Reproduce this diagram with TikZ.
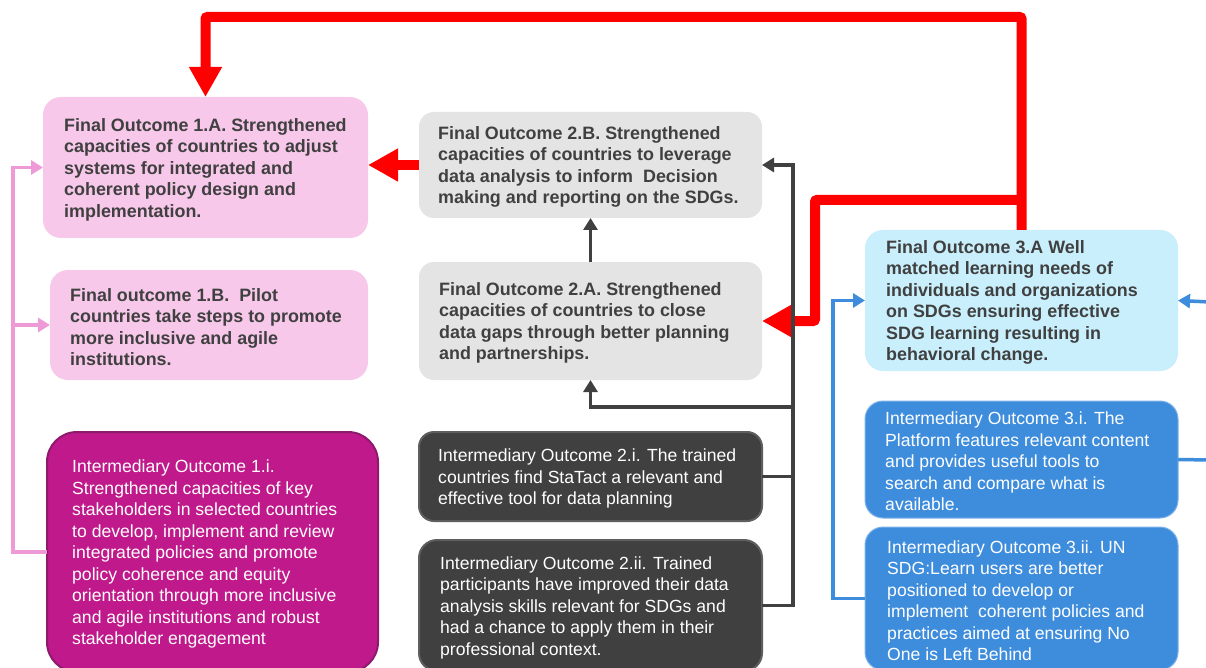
\documentclass[tikz,border=0pt]{standalone}
\usepackage{fontspec}
\setmainfont{Liberation Sans}
\usetikzlibrary{arrows.meta}
\definecolor{pinkfill}{HTML}{F7C8E9}
\definecolor{pinkline}{HTML}{EE9AD6}
\definecolor{magfill}{HTML}{C0198B}
\definecolor{magdraw}{HTML}{8E1A6E}
\definecolor{grayfill}{HTML}{E4E4E4}
\definecolor{darkfill}{HTML}{404040}
\definecolor{darkdraw}{HTML}{5E5E5E}
\definecolor{lbluefill}{HTML}{C9EFFC}
\definecolor{bluefill}{HTML}{3E8DDD}
\definecolor{bluedraw}{HTML}{7DB3EA}
\definecolor{txtgray}{HTML}{404040}
\definecolor{redc}{HTML}{FF0000}
\tikzset{
  box/.style={rectangle, rounded corners=18pt, inner sep=0pt, outer sep=0pt},
  txtb/.style={anchor=west, align=left, inner sep=0pt, text=txtgray, yshift=-2pt,
    font=\fontsize{17.9}{21.5}\selectfont\bfseries},
  txtw/.style={anchor=west, align=left, inner sep=0pt, text=white, yshift=-2pt,
    font=\fontsize{17.6}{21.5}\selectfont},
  redline/.style={draw=redc, line width=10pt, rounded corners=2pt},
  redtip/.style={-{Triangle[length=30pt,width=31pt]}},
  darkline/.style={draw=darkfill, line width=3.5pt},
  pinkln/.style={draw=pinkline, line width=3.5pt},
  blueln/.style={draw=bluefill, line width=3.5pt},
  smalltip/.style={-{Triangle[length=12pt,width=14pt]}},
}
\begin{document}
\begin{tikzpicture}[x=1pt,y=-1pt]
\useasboundingbox[fill=white] (0,0) rectangle (1206,668);
% boxes
\node[box, fill=pinkfill, minimum width=325pt, minimum height=141pt] (n1A) at (205.5,167.5) {};
\node[box, fill=pinkfill, minimum width=318pt, minimum height=110pt] (n1B) at (209,325) {};
\node[box, fill=magfill, draw=magdraw, line width=2pt, rounded corners=30pt, minimum width=331pt, minimum height=240pt] (n1i) at (212.5,552) {};
\node[box, fill=grayfill, rounded corners=15pt, minimum width=343pt, minimum height=106pt] (n2B) at (590.5,165) {};
\node[box, fill=grayfill, rounded corners=15pt, minimum width=343pt, minimum height=118pt] (n2A) at (590.5,321) {};
\node[box, fill=darkfill, draw=darkdraw, line width=2pt, rounded corners=15pt, minimum width=343pt, minimum height=89pt] (n2i) at (590.5,476.5) {};
\node[box, fill=darkfill, draw=darkdraw, line width=2pt, rounded corners=18pt, minimum width=343pt, minimum height=131pt] (n2ii) at (590.5,605.5) {};
\node[box, fill=lbluefill, minimum width=313pt, minimum height=141pt] (n3A) at (1021.5,300.5) {};
\node[box, fill=bluefill, draw=bluedraw, line width=1pt, minimum width=313pt, minimum height=117pt] (n3i) at (1021.5,459.5) {};
\node[box, fill=bluefill, draw=bluedraw, line width=1pt, minimum width=313pt, minimum height=143pt] (n3ii) at (1021.5,598.5) {};
% texts
\node[txtb] (t1A) at ([xshift=21pt]n1A.west) {Final Outcome 1.A. Strengthened\\capacities of countries to adjust\\systems for integrated and\\coherent policy design and\\implementation.};
\node[txtb] (t1B) at ([xshift=20pt]n1B.west) {Final outcome 1.B.\ \ Pilot\\countries take steps to promote\\more inclusive and agile\\institutions.};
\node[txtw] (t1i) at ([xshift=25pt]n1i.west) {Intermediary Outcome 1.i.\\Strengthened capacities of key\\stakeholders in selected countries\\to develop, implement and review\\integrated policies and promote\\policy coherence and equity\\orientation through more inclusive\\and agile institutions and robust\\stakeholder engagement};
\node[txtb] (t2B) at ([xshift=19pt]n2B.west) {Final Outcome 2.B. Strengthened\\capacities of countries to leverage\\data analysis to inform\ \ Decision\\making and reporting on the SDGs.};
\node[txtb] (t2A) at ([xshift=20pt]n2A.west) {Final Outcome 2.A. Strengthened\\capacities of countries to close\\data gaps through better planning\\and partnerships.};
\node[txtw] (t2i) at ([xshift=19pt]n2i.west) {Intermediary Outcome 2.i. The trained\\countries find StaTact a relevant and\\effective tool for data planning};
\node[txtw] (t2ii) at ([xshift=21pt]n2ii.west) {Intermediary Outcome 2.ii. Trained\\participants have improved their data\\analysis skills relevant for SDGs and\\had a chance to apply them in their\\professional context.};
\node[txtb] (t3A) at ([xshift=21pt]n3A.west) {Final Outcome 3.A Well\\matched learning needs of\\individuals and organizations\\on SDGs ensuring effective\\SDG learning resulting in\\behavioral change.};
\node[txtw] (t3i) at ([xshift=20pt]n3i.west) {Intermediary Outcome 3.i. The\\Platform features relevant content\\and provides useful tools to\\search and compare what is\\available.};
\node[txtw] (t3ii) at ([xshift=22pt]n3ii.west) {Intermediary Outcome 3.ii. UN\\SDG:Learn users are better\\positioned to develop or\\implement\ \ coherent policies and\\practices aimed at ensuring No\\One is Left Behind};
% coordinates
\coordinate (rtop) at (0,17);
\coordinate (rmid) at (0,200);
\coordinate (rx2) at (815,0);
\coordinate (dx) at (793,0);
\coordinate (dy) at (0,407);
\coordinate (px) at (13,0);
\coordinate (bx) at (833,0);
\coordinate (rin) at (1210,302);
\coordinate (rout) at (1210,460);
% red connectors
\draw[redline, redtip] (n3A.north) -- (n3A.north |- rtop) -| (n1A.north);
\draw[redline, redtip] (n3A.north |- rmid) -| (n2A.east -| rx2) -- (n2A.east);
\draw[redline, redtip] (n2B.west) -- (n2B.west -| n1A.east);
% dark connectors
\draw[darkline, smalltip] (n2ii.east) -| (n2B.east -| dx) -- (n2B.east);
\draw[darkline] (n2i.east) -- (n2i.east -| dx);
\draw[darkline, smalltip] (dx |- dy) -| (n2A.south);
\draw[darkline, smalltip] (n2A.north) -- (n2B.south);
% pink connectors
\draw[pinkln, smalltip] (n1i.west) -- (n1i.west -| px) |- (n1A.west);
\draw[pinkln, smalltip] (n1B.west -| px) -- (n1B.west);
% blue connectors
\draw[blueln, smalltip] (n3ii.west) -| (n3A.west -| bx) -- (n3A.west);
\draw[blueln, smalltip] (rin) -- (n3A.east);
\draw[blueln] (n3i.east) -- (rout);
\end{tikzpicture}
\end{document}
